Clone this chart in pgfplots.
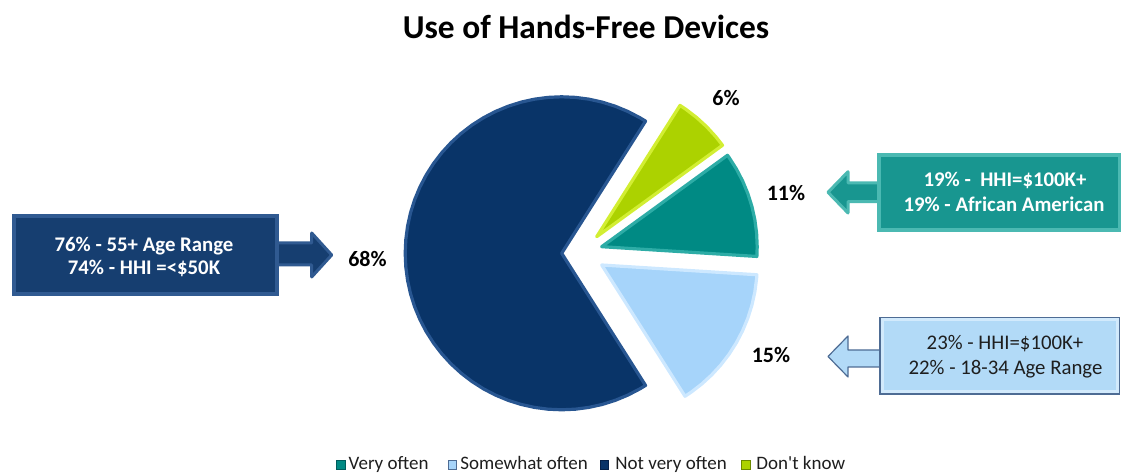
\documentclass[border=0pt]{standalone}
\usepackage{pgfplots}
\pgfplotsset{compat=1.18}
\usepackage{fontspec}
\setmainfont{Carlito}
\definecolor{dkF}{RGB}{9,52,104}\definecolor{dkR}{RGB}{40,86,145}\definecolor{dkE}{RGB}{5,33,72}
\definecolor{tlF}{RGB}{0,138,132}\definecolor{tlR}{RGB}{45,172,166}\definecolor{tlE}{RGB}{0,92,92}
\definecolor{lbF}{RGB}{166,212,250}\definecolor{lbR}{RGB}{205,232,255}\definecolor{lbE}{RGB}{78,108,148}
\definecolor{ygF}{RGB}{172,210,0}\definecolor{ygR}{RGB}{210,238,50}\definecolor{ygE}{RGB}{108,138,0}
\definecolor{bxD}{RGB}{22,62,112}\definecolor{bxDR}{RGB}{48,90,145}
\definecolor{bxT}{RGB}{24,150,144}\definecolor{bxTR}{RGB}{75,185,178}
\definecolor{bxL}{RGB}{178,218,247}\definecolor{bxLR}{RGB}{210,234,252}
\definecolor{txt}{RGB}{30,30,30}
\begin{document}
\begin{tikzpicture}
\begin{axis}[name=ax, x=0.5pt, y=0.5pt, xmin=0, xmax=1121, ymin=0, ymax=475,
  hide axis, clip=false, axis line style={draw=none}]
% Not very often 68%
\addplot[data cs=polar, fill=dkF, draw=dkR, line width=1.6pt, line join=round, xshift=280.85pt, yshift=110.85pt]
 coordinates {(0,0) (57.6,156.5) (60,156.5) (65,156.5) (70,156.5) (75,156.5) (80,156.5) (85,156.5) (90,156.5) (95,156.5) (100,156.5) (105,156.5) (110,156.5) (115,156.5) (120,156.5) (125,156.5) (130,156.5) (135,156.5) (140,156.5) (145,156.5) (150,156.5) (155,156.5) (160,156.5) (165,156.5) (170,156.5) (175,156.5) (180,156.5) (185,156.5) (190,156.5) (195,156.5) (200,156.5) (205,156.5) (210,156.5) (215,156.5) (220,156.5) (225,156.5) (230,156.5) (235,156.5) (240,156.5) (245,156.5) (250,156.5) (255,156.5) (260,156.5) (265,156.5) (270,156.5) (275,156.5) (280,156.5) (285,156.5) (290,156.5) (295,156.5) (300,156.5) (302.4,156.5)} -- cycle;
% Don't know 6%
\addplot[data cs=polar, fill=ygF, draw=ygR, line width=1.6pt, line join=round, xshift=298.35pt, yshift=119.15pt]
 coordinates {(0,0) (36,155.5) (40,155.5) (45,155.5) (50,155.5) (55,155.5) (57.6,155.5)} -- cycle;
% Very often 11%
\addplot[data cs=polar, fill=tlF, draw=tlR, line width=1.6pt, line join=round, xshift=300.85pt, yshift=114.15pt]
 coordinates {(0,0) (-3.6,155.5) (0,155.5) (5,155.5) (10,155.5) (15,155.5) (20,155.5) (25,155.5) (30,155.5) (35,155.5) (36,155.5)} -- cycle;
% Somewhat often 15%
\addplot[data cs=polar, fill=lbF, draw=lbR, line width=1.6pt, line join=round, xshift=300.85pt, yshift=105pt]
 coordinates {(0,0) (-57.6,155.5) (-55,155.5) (-50,155.5) (-45,155.5) (-40,155.5) (-35,155.5) (-30,155.5) (-25,155.5) (-20,155.5) (-15,155.5) (-10,155.5) (-5,155.5) (-3.6,155.5)} -- cycle;

% title
\node[font=\fontsize{16.7}{20}\selectfont\bfseries, anchor=base] at (axis cs:586,436.7) {Use of Hands-Free Devices};
% percent labels
\node[font=\fontsize{11}{13}\selectfont\bfseries, anchor=base] at (axis cs:367.5,208.3) {68\%};
\node[font=\fontsize{11}{13}\selectfont\bfseries, anchor=base] at (axis cs:726,369) {6\%};
\node[font=\fontsize{11}{13}\selectfont\bfseries, anchor=base] at (axis cs:786,274.7) {11\%};
\node[font=\fontsize{11}{13}\selectfont\bfseries, anchor=base] at (axis cs:771,112.7) {15\%};

% left box and arrow
\draw[fill=bxD, draw=bxDR, line width=1.5pt, line join=round] (axis cs:311.7,232) -- (axis cs:311.7,242) -- (axis cs:331.7,220) -- (axis cs:311.7,198) -- (axis cs:311.7,210) -- (axis cs:276,210) -- (axis cs:276,232) -- cycle;
\draw[fill=bxD, draw=bxDR, line width=1.8pt] (axis cs:14,181) rectangle (axis cs:277,259);
\node[font=\fontsize{10.4}{12}\selectfont\bfseries, text=white, anchor=base] at (axis cs:144,223.3) {76\% - 55+ Age Range};
\node[font=\fontsize{10.4}{12}\selectfont\bfseries, text=white, anchor=base] at (axis cs:144,200.7) {74\% - HHI =<\$50K};

% right top box and arrow
\draw[fill=bxT, draw=bxTR, line width=1.5pt, line join=round] (axis cs:848,292) -- (axis cs:848,303.3) -- (axis cs:828,282.7) -- (axis cs:848,262) -- (axis cs:848,273.3) -- (axis cs:880,273.3) -- (axis cs:880,292) -- cycle;
\draw[fill=bxT, draw=bxTR, line width=1.8pt] (axis cs:879,245) rectangle (axis cs:1119.5,320);
\node[font=\fontsize{10.4}{12}\selectfont\bfseries, text=white, anchor=base] at (axis cs:1005,288.3) {19\% -\ \ HHI=\$100K+};
\node[font=\fontsize{10.4}{12}\selectfont\bfseries, text=white, anchor=base] at (axis cs:1004,263.3) {19\% - African American};

% right bottom box and arrow
\draw[fill=bxL, draw=lbE, line width=0.6pt, line join=round] (axis cs:848,125) -- (axis cs:848,139) -- (axis cs:828,118.5) -- (axis cs:848,98) -- (axis cs:848,108) -- (axis cs:881,108) -- (axis cs:881,125) -- cycle;
\draw[fill=bxL, draw=lbE, line width=0.6pt] (axis cs:880,81) rectangle (axis cs:1119.5,157);
\draw[draw=bxLR, line width=1.5pt] (axis cs:882,83) rectangle (axis cs:1117.5,155);
\node[font=\fontsize{10.4}{12}\selectfont, text=txt, anchor=base] at (axis cs:1005,125) {23\% - HHI=\$100K+};
\node[font=\fontsize{10.4}{12}\selectfont, text=txt, anchor=base] at (axis cs:1005.5,100) {22\% - 18-34 Age Range};

% legend
\draw[fill=tlF, draw=tlE, line width=0.4pt] (axis cs:336,6) rectangle (axis cs:345,14.5);
\draw[fill=lbF, draw=lbE, line width=0.4pt] (axis cs:448.3,6) rectangle (axis cs:456.7,14.5);
\draw[fill=dkF, draw=dkE, line width=0.4pt] (axis cs:600,6) rectangle (axis cs:608.5,14.5);
\draw[fill=ygF, draw=ygE, line width=0.4pt] (axis cs:741.7,6) rectangle (axis cs:750.7,14.5);
\node[font=\fontsize{9.5}{11}\selectfont, text=txt, anchor=base west, inner sep=0pt] at (axis cs:348.3,5.5) {Very often};
\node[font=\fontsize{9.5}{11}\selectfont, text=txt, anchor=base west, inner sep=0pt] at (axis cs:460,5.5) {Somewhat often};
\node[font=\fontsize{9.5}{11}\selectfont, text=txt, anchor=base west, inner sep=0pt] at (axis cs:615,5.5) {Not very often};
\node[font=\fontsize{9.5}{11}\selectfont, text=txt, anchor=base west, inner sep=0pt] at (axis cs:756,5.5) {Don\textquotesingle t know};
\end{axis}
\pgfresetboundingbox
\path[use as bounding box] (ax.south west) rectangle (ax.north east);
\end{tikzpicture}
\end{document}
